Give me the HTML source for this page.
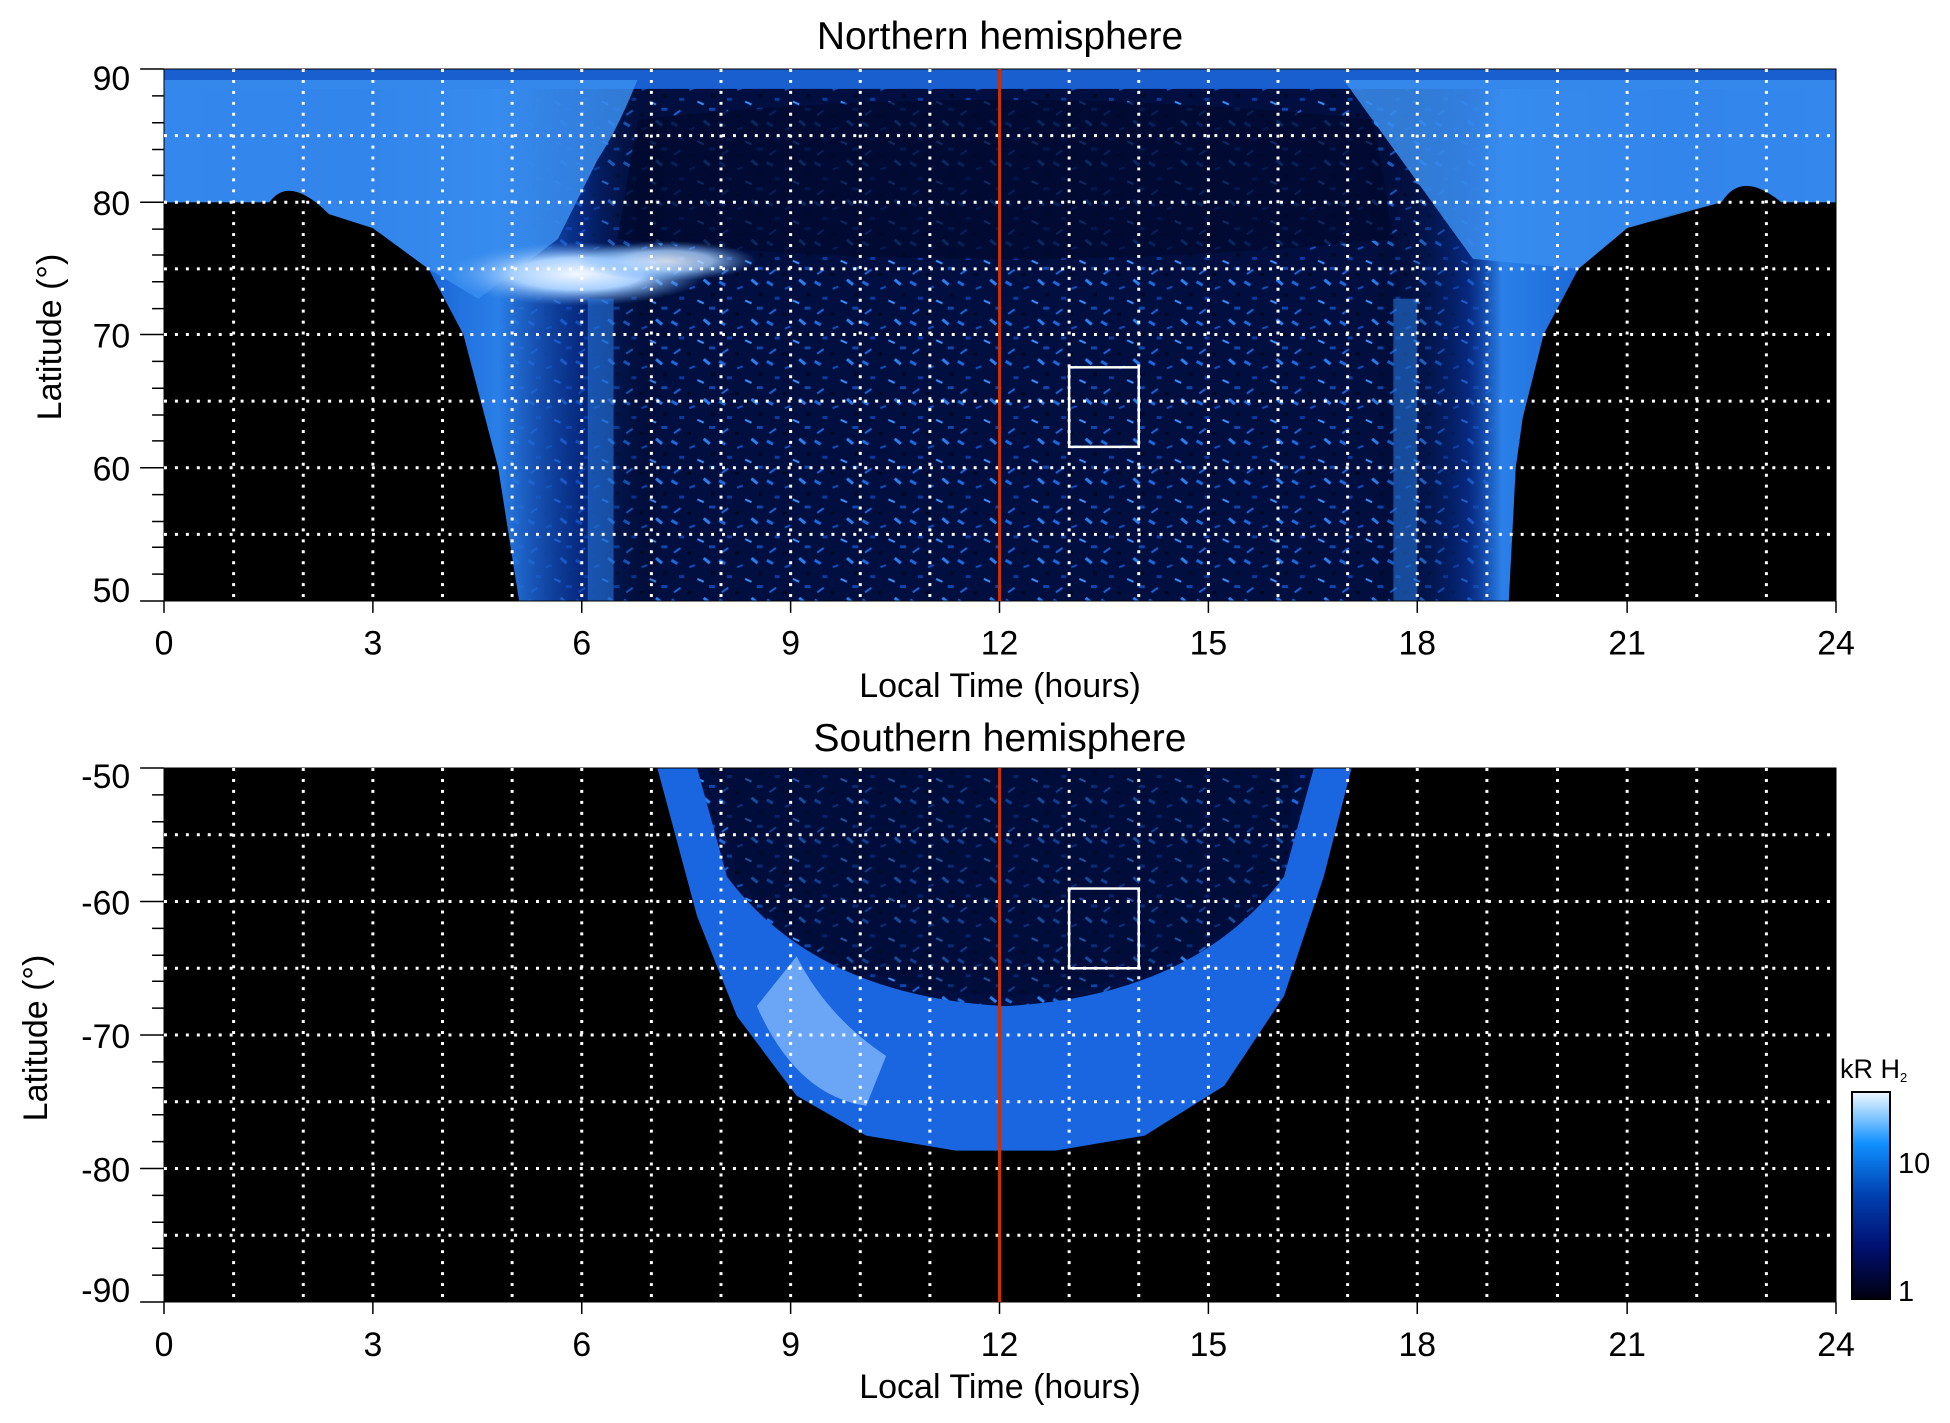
<!DOCTYPE html>
<html><head><meta charset="utf-8"><style>
html,body{margin:0;padding:0;background:#fff;}
svg{display:block;font-family:"Liberation Sans",sans-serif;}
</style></head><body>
<svg width="1950" height="1423" viewBox="0 0 1950 1423" xmlns="http://www.w3.org/2000/svg">
<defs>
<pattern id="spk" width="48" height="40" patternUnits="userSpaceOnUse">
<rect width="48" height="40" fill="#010e40"/>
<rect x="2" y="3" width="7" height="3" fill="#1a6ae0" transform="rotate(30 5 4)"/>
<rect x="20" y="8" width="6" height="2" fill="#0f4fc0" transform="rotate(-20 23 9)"/>
<rect x="34" y="2" width="8" height="3" fill="#2a80f0" transform="rotate(40 38 3)"/>
<rect x="10" y="18" width="5" height="3" fill="#0a3aa0"/>
<rect x="28" y="22" width="7" height="2" fill="#3a90ff" transform="rotate(25 31 23)"/>
<rect x="40" y="28" width="6" height="3" fill="#0d48b0"/>
<rect x="4" y="32" width="8" height="2" fill="#1c64d8" transform="rotate(-35 8 33)"/>
<rect x="18" y="34" width="4" height="3" fill="#000820"/>
<rect x="42" y="14" width="4" height="4" fill="#000a28"/>
</pattern>
<linearGradient id="nband" x1="0" x2="1" y1="0" y2="0">
<stop offset="0" stop-color="#1560d8"/><stop offset="0.12" stop-color="#0c50c8"/>
<stop offset="0.2" stop-color="#2a7fe8"/><stop offset="0.25" stop-color="#0a3aa8" stop-opacity="0.6"/>
<stop offset="0.3" stop-color="#000" stop-opacity="0"/>
<stop offset="0.72" stop-color="#000" stop-opacity="0"/>
<stop offset="0.78" stop-color="#0a3aa8" stop-opacity="0.6"/>
<stop offset="0.8" stop-color="#2a80e8"/><stop offset="0.9" stop-color="#0c50c8"/>
<stop offset="1" stop-color="#1560d8"/>
</linearGradient>
<linearGradient id="cb" x1="0" x2="0" y1="0" y2="1">
<stop offset="0" stop-color="#f0f8ff"/><stop offset="0.25" stop-color="#1090ff"/>
<stop offset="0.5" stop-color="#0040b0"/><stop offset="0.75" stop-color="#001070"/>
<stop offset="1" stop-color="#000010"/>
</linearGradient>
<radialGradient id="bright" cx="0.5" cy="0.5" r="0.5">
<stop offset="0" stop-color="#f4f8ff"/><stop offset="0.5" stop-color="#a8d0ff"/><stop offset="1" stop-color="#5aa0f0" stop-opacity="0"/>
</radialGradient>
<clipPath id="cN"><rect x="164" y="69" width="1681" height="535"/></clipPath>
<clipPath id="cS"><rect x="164" y="771" width="1681" height="536"/></clipPath>
</defs>

<!-- NORTH -->
<g transform="translate(164,69) scale(0.99465,0.9944) translate(-164,-69)">
<g clip-path="url(#cN)">
<rect x="164" y="69" width="1681" height="535" fill="#000"/>
<path d="M164,69 H1845 V203 H1790 Q1750,170 1730,203 L1680,215 L1635,229 L1586,270 L1551,336 L1530,420 L1523,470 L1516,604 H521 L500,470 L465,336 L430,270 L374,229 L330,215 Q290,175 270,203 H164 Z" fill="url(#spk)"/>
<path d="M164,69 H1845 V203 H1790 Q1750,170 1730,203 L1680,215 L1635,229 L1586,270 L1551,336 L1530,420 L1523,470 L1516,604 H521 L500,470 L465,336 L430,270 L374,229 L330,215 Q290,175 270,203 H164 Z" fill="url(#nband)"/>
<rect x="164" y="69" width="1681" height="20" fill="#1a5fd0"/>
<path d="M164,80 H640 Q620,130 600,160 L560,240 L480,300 L430,270 L374,229 L330,215 Q290,175 270,203 H164Z" fill="#3a8ef0" opacity="0.85"/>
<path d="M1350,80 H1845 V203 H1790 Q1750,170 1730,203 L1635,229 L1586,270 L1480,260 Z" fill="#3a8ef0" opacity="0.85"/>
<path d="M640,120 Q1000,80 1380,120 L1400,240 Q1000,280 620,240 Z" fill="#000a2e" opacity="0.75"/>
<ellipse cx="580" cy="275" rx="130" ry="32" fill="url(#bright)"/>
<ellipse cx="670" cy="262" rx="90" ry="20" fill="url(#bright)" opacity="0.8"/>
<rect x="590" y="300" width="26" height="304" fill="#2a7ee8" opacity="0.55"/>
<rect x="1400" y="300" width="24" height="304" fill="#2a7ee8" opacity="0.55"/>
</g>
<rect x="164" y="69" width="1681" height="535" fill="none" stroke="#000" stroke-width="1"/>
<g stroke="#fff" stroke-width="3" stroke-dasharray="3,8" fill="none">
<path d="M234,69V604M304,69V604M374,69V604M444,69V604M514,69V604M584,69V604M654,69V604M724,69V604M794,69V604M864,69V604M934,69V604M1074,69V604M1144,69V604M1214,69V604M1284,69V604M1354,69V604M1424,69V604M1494,69V604M1565,69V604M1635,69V604M1705,69V604M1775,69V604"/>
<path d="M164,136H1845M164,203H1845M164,270H1845M164,336H1845M164,403H1845M164,470H1845M164,537H1845"/>
</g>
<line x1="1004" y1="69" x2="1004" y2="604" stroke="#d03000" stroke-width="3"/>
<rect x="1074" y="369" width="70" height="80" fill="none" stroke="#fff" stroke-width="2.5"/>
<g stroke="#000" stroke-width="1.5">
<path d="M140,69H164M140,203H164M140,336H164M140,470H164M140,604H164M152,96H164M152,123H164M152,150H164M152,176H164M152,230H164M152,256H164M152,283H164M152,310H164M152,363H164M152,390H164M152,417H164M152,443H164M152,497H164M152,524H164M152,550H164M152,577H164"/>
<path d="M164,604V616M374,604V616M584,604V616M794,604V616M1004,604V616M1214,604V616M1424,604V616M1635,604V616M1845,604V616"/>
</g>
<g font-size="34" fill="#000">
<g text-anchor="end">
<text x="130" y="90">90</text><text x="130" y="216">80</text><text x="130" y="349">70</text><text x="130" y="483">60</text><text x="130" y="605">50</text>
</g>
<g text-anchor="middle">
<text x="164" y="658">0</text><text x="374" y="658">3</text><text x="584" y="658">6</text><text x="794" y="658">9</text><text x="1004" y="658">12</text><text x="1214" y="658">15</text><text x="1424" y="658">18</text><text x="1635" y="658">21</text><text x="1845" y="658">24</text>
</g>
</g>
</g>

<!-- SOUTH -->
<g transform="translate(164,768) scale(0.99465,0.99627) translate(-164,-771)">
<g clip-path="url(#cS)">
<rect x="164" y="771" width="1681" height="536" fill="#000"/>
<path d="M660,771 H1358 L1330,880 L1290,1000 L1230,1090 L1150,1140 L1060,1155 L960,1155 L870,1140 L800,1100 L740,1020 L700,920 Z" fill="#1a66e0"/>
<path d="M760,1010 Q800,1100 870,1110 L890,1060 Q830,1020 800,960Z" fill="#8ec2ff" opacity="0.7"/>
<path d="M700,771 H1320 L1290,880 Q1200,1000 1010,1010 Q820,1000 730,880 Z" fill="url(#spk)"/>
<path d="M720,771 H1300 L1290,880 Q1200,990 1010,1000 Q820,990 740,880 Z" fill="#000a30" opacity="0.45"/>
</g>
<rect x="164" y="771" width="1681" height="536" fill="none" stroke="#000" stroke-width="1"/>
<g stroke="#fff" stroke-width="3" stroke-dasharray="3,8" fill="none">
<path d="M234,771V1307M304,771V1307M374,771V1307M444,771V1307M514,771V1307M584,771V1307M654,771V1307M724,771V1307M794,771V1307M864,771V1307M934,771V1307M1074,771V1307M1144,771V1307M1214,771V1307M1284,771V1307M1354,771V1307M1424,771V1307M1494,771V1307M1565,771V1307M1635,771V1307M1705,771V1307M1775,771V1307"/>
<path d="M164,838H1845M164,905H1845M164,972H1845M164,1039H1845M164,1106H1845M164,1173H1845M164,1240H1845"/>
</g>
<line x1="1004" y1="771" x2="1004" y2="1307" stroke="#d03000" stroke-width="3"/>
<rect x="1074" y="892" width="70" height="80" fill="none" stroke="#fff" stroke-width="2.5"/>
<g stroke="#000" stroke-width="1.5">
<path d="M140,771H164M140,905H164M140,1039H164M140,1173H164M140,1307H164M152,798H164M152,825H164M152,851H164M152,878H164M152,932H164M152,959H164M152,985H164M152,1012H164M152,1066H164M152,1092H164M152,1119H164M152,1146H164M152,1200H164M152,1227H164M152,1253H164M152,1280H164"/>
<path d="M164,1307V1319M374,1307V1319M584,1307V1319M794,1307V1319M1004,1307V1319M1214,1307V1319M1424,1307V1319M1635,1307V1319M1845,1307V1319"/>
</g>
<g font-size="34" fill="#000">
<g text-anchor="end">
<text x="130" y="791">-50</text><text x="130" y="918">-60</text><text x="130" y="1052">-70</text><text x="130" y="1186">-80</text><text x="130" y="1307">-90</text>
</g>
<g text-anchor="middle">
<text x="164" y="1361">0</text><text x="374" y="1361">3</text><text x="584" y="1361">6</text><text x="794" y="1361">9</text><text x="1004" y="1361">12</text><text x="1214" y="1361">15</text><text x="1424" y="1361">18</text><text x="1635" y="1361">21</text><text x="1845" y="1361">24</text>
</g>
</g>
</g>

<g font-size="34" fill="#000">
<text x="1000" y="49" text-anchor="middle" font-size="39">Northern hemisphere</text>
<text x="1000" y="751" text-anchor="middle" font-size="39">Southern hemisphere</text>
<text x="1000" y="697" text-anchor="middle">Local Time (hours)</text>
<text x="1000" y="1398" text-anchor="middle">Local Time (hours)</text>
<text transform="translate(61,337) rotate(-90)" text-anchor="middle">Latitude (°)</text>
<text transform="translate(47,1038) rotate(-90)" text-anchor="middle">Latitude (°)</text>
</g>

<!-- colorbar -->
<rect x="1852" y="1092" width="38" height="207" fill="url(#cb)" stroke="#000" stroke-width="2"/>
<text x="1840" y="1078" font-size="27">kR H<tspan font-size="13" dy="4">2</tspan></text>
<text x="1898" y="1173" font-size="29">10</text>
<text x="1898" y="1301" font-size="29">1</text>
</svg>
</body></html>
